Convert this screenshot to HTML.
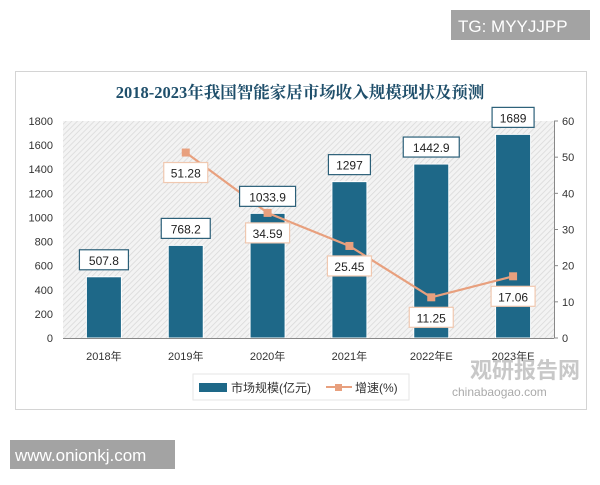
<!DOCTYPE html>
<html><head><meta charset="utf-8"><style>
body{margin:0;width:600px;height:480px;background:#fff;overflow:hidden;font-family:"Liberation Sans","Noto Sans CJK SC",sans-serif}
</style></head><body>
<svg width="600" height="480" viewBox="0 0 600 480" xmlns="http://www.w3.org/2000/svg" font-family="Liberation Sans, Noto Sans CJK SC, sans-serif">
<defs>
<pattern id="hatch" width="4" height="4" patternUnits="userSpaceOnUse" patternTransform="rotate(45)">
<rect width="4" height="4" fill="#f3f3f3"/><line x1="0" y1="0" x2="0" y2="4" stroke="#d8d8d8" stroke-width="1.5"/>
</pattern>
</defs>
<rect x="451" y="10" width="139" height="30" fill="#a3a3a3"/>
<text x="458" y="32" font-size="17" fill="#fff">TG: MYYJJPP</text>
<rect x="15.5" y="71.5" width="571" height="338" fill="#fff" stroke="#d4d4d4"/>
<text x="300" y="98" text-anchor="middle" font-size="16.5" font-weight="bold" fill="#1f4f6b" font-family="Liberation Serif, Noto Serif CJK SC, serif">2018-2023年我国智能家居市场收入规模现状及预测</text>
<rect x="63" y="121" width="491" height="217" fill="url(#hatch)"/>
<g id="chart"></g>
<g>
<rect x="193" y="374" width="216" height="26" fill="#fff" stroke="#e6e6e6"/>
<rect x="199" y="383" width="28" height="9" fill="#1e6888"/>
<text x="231" y="392" font-size="12" fill="#333">市场规模(亿元)</text>
<line x1="326" y1="387" x2="352" y2="387" stroke="#e8a07e" stroke-width="2"/>
<rect x="335" y="384" width="7" height="7" fill="#e8a07e"/>
<text x="355" y="392" font-size="12" fill="#333">增速(%)</text>
</g>
<text x="470" y="378" font-size="22" font-weight="bold" fill="#c8c8c8">观研报告网</text>
<text x="452" y="396" font-size="12" fill="#aaa">chinabaogao.com</text>
<rect x="10" y="440" width="165" height="29" fill="#a3a3a3"/>
<text x="15" y="461" font-size="17" fill="#fff">www.onionkj.com</text>
</svg>
<script>
const categories=["2018年","2019年","2020年","2021年","2022年E","2023年E"];
const sizeValues=[507.8,768.2,1033.9,1297,1442.9,1689];
const sizeLabels=["507.8","768.2","1033.9","1297","1442.9","1689"];
const growthValues=[null,51.28,34.59,25.45,11.25,17.06];
const growthLabels=["","51.28","34.59","25.45","11.25","17.06"];
const leftTicks=[0,200,400,600,800,1000,1200,1400,1600,1800];
const rightTicks=[0,10,20,30,40,50,60];

const NS="http://www.w3.org/2000/svg";
const g=document.getElementById('chart');
const X0=63,X1=554,Y0=338,Y1=121;
const bw=(X1-X0)/categories.length;
const xc=i=>X0+bw*(i+0.5);
const yl=v=>Y0-(v/1800)*(Y0-Y1);
const yr=v=>Y0-(v/60)*(Y0-Y1);
function mk(tag,attrs,parent){const e=document.createElementNS(NS,tag);for(const k in attrs)e.setAttribute(k,attrs[k]);(parent||g).appendChild(e);return e;}

leftTicks.forEach(t=>{
  const e=mk('text',{x:53,y:yl(t)+4,'text-anchor':'end','font-size':11,fill:'#333'});
  
  
  e.textContent=t;
});
rightTicks.forEach(t=>{
  const l=mk('line',{x1:554,x2:558,y1:yr(t),y2:yr(t),stroke:'#888'});
  
  
  const e=mk('text',{x:562,y:yr(t)+4,'font-size':11,fill:'#333'});
  
  
  e.textContent=t;
});
const ra=mk('line',{x1:554.5,x2:554.5,y1:Y1,y2:Y0,stroke:'#888'});



sizeValues.forEach((v,i)=>{
  const r=mk('rect',{x:xc(i)-17.5,y:yl(v),width:35,height:Y0-yl(v),fill:'#1e6888',stroke:'#fff','stroke-width':1});
  
  
});
const xa=mk('line',{x1:X0,x2:X1,y1:Y0+0.5,y2:Y0+0.5,stroke:'#888'});



categories.forEach((c,i)=>{
  const e=mk('text',{x:xc(i),y:360,'text-anchor':'middle','font-size':11,fill:'#333'});
  
  
  e.textContent=c;
});

let d='';
growthValues.forEach((v,i)=>{if(v===null)return;d+=(d?'L':'M')+xc(i)+','+yr(v);});
const p=mk('path',{d:d,fill:'none',stroke:'#e8a07e','stroke-width':2.2});


growthValues.forEach((v,i)=>{
  if(v===null)return;
  const m=mk('rect',{x:xc(i)-4,y:yr(v)-4,width:8,height:8,fill:'#e8a07e'});
  
  
});

function label(x,y,txt,stroke,w){
  const r=mk('rect',{x:x-w/2,y:y-10,width:w,height:20,fill:'#fff',stroke:stroke,'stroke-width':1.2});
  
  
  const t=mk('text',{x:x,y:y+5,'text-anchor':'middle','font-size':12,fill:'#222'});
  
  
  t.textContent=txt;
}
sizeValues.forEach((v,i)=>{
  label(xc(i),yl(v)-17,sizeLabels[i],'#2b5f78',sizeLabels[i].length*7+14);
});
growthValues.forEach((v,i)=>{
  if(v===null)return;
  label(xc(i),yr(v)+20,growthLabels[i],'#f0c8b0',44);
});
</script>
</body></html>
